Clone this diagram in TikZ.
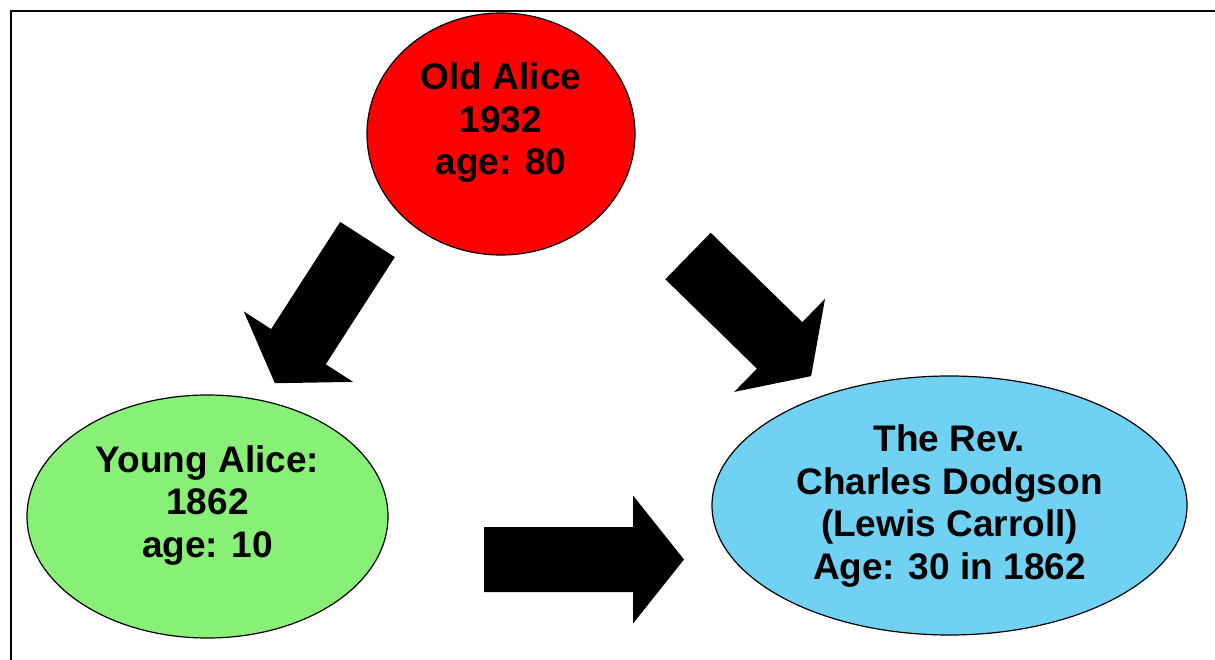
\documentclass[tikz,border=0pt]{standalone}
\usepackage{fontspec}
\setmainfont{Liberation Sans}
\usetikzlibrary{shapes.geometric}

\definecolor{oldred}{RGB}{255,0,0}
\definecolor{younggreen}{RGB}{136,240,119}
\definecolor{revblue}{RGB}{112,209,243}

\begin{document}
\begin{tikzpicture}[x=1pt,y=-1pt,
    bubble/.style={ellipse,draw=black,line width=1.2pt,inner sep=0pt},
    words/.style={font=\fontsize{37}{42.5}\selectfont\bfseries,align=center,inner sep=0pt}]

    \useasboundingbox (0,0) rectangle (1215,660);
    \draw[line width=1.6pt] (11,660) -- (11,11) -- (1215,11);

    \node[bubble,fill=oldred,minimum width=268pt,minimum height=242pt] (old) at (501,134) {};
    \node[bubble,fill=younggreen,minimum width=361pt,minimum height=243pt] (young) at (207.5,516.5) {};
    \node[bubble,fill=revblue,minimum width=475pt,minimum height=259pt] (rev) at (949.5,505.5) {};

    \node[words] (oldtext) at (501,123) {Old Alice\\1932\\age: 80};
    \node[words] (youngtext) at (207.5,505.5) {Young Alice:\\1862\\age: 10};
    \node[words] (revtext) at (949.5,506) {The Rev.\\Charles Dodgson\\(Lewis Carroll)\\Age: 30 in 1862};

    % old alice -> young alice
    \begin{scope}[shift={(367.5,239.5)},rotate=-122.8]
    \fill (0,-32.5) -- (127.5,-32.5) -- (127.5,-65) -- (171,0) -- (127.5,65) -- (127.5,32.5) -- (0,32.5) -- cycle;
    \end{scope}

    % old alice -> dodgson
    \begin{scope}[shift={(688,256)},rotate=-44.3]
    \fill (0,-32.5) -- (128,-32.5) -- (128,-65) -- (172,0) -- (128,65) -- (128,32.5) -- (0,32.5) -- cycle;
    \end{scope}

    % young alice -> dodgson
    \begin{scope}[shift={(484,559.5)}]
    \fill (0,-32.5) -- (149,-32.5) -- (149,-64) -- (200,0) -- (149,64) -- (149,32.5) -- (0,32.5) -- cycle;
    \end{scope}
\end{tikzpicture}
\end{document}
